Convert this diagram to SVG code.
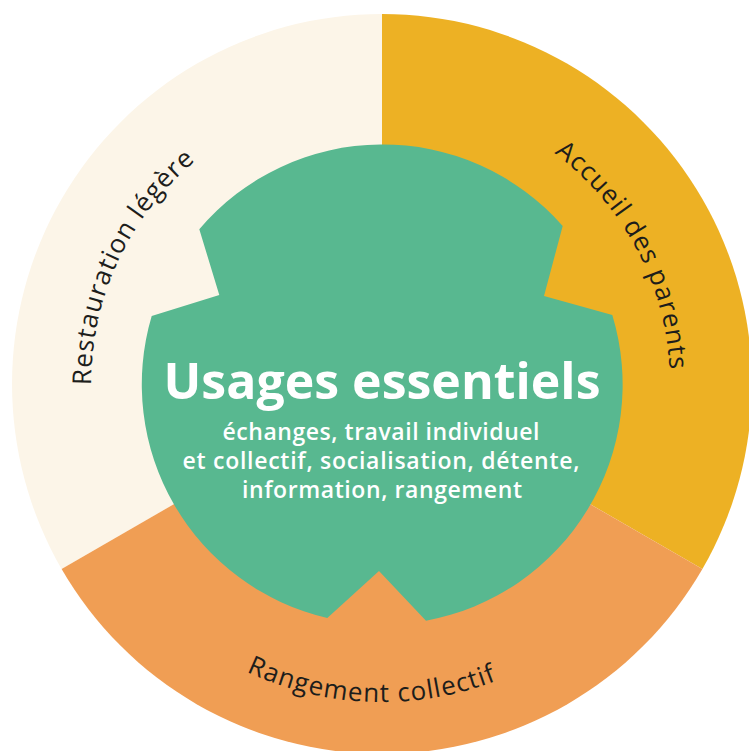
<svg xmlns="http://www.w3.org/2000/svg" width="749" height="751" viewBox="0 0 749 751">
  <style>
    .label { font-family: "Open Sans", "Noto Sans", "Liberation Sans", sans-serif; font-size: 26px; fill: #1d1d1b; letter-spacing: 1px; }
    .title { font-family: "Open Sans", "Noto Sans", "Liberation Sans", sans-serif; font-weight: 700; font-size: 50px; fill: #ffffff; text-anchor: middle; }
    .sub { font-family: "Open Sans", "Noto Sans", "Liberation Sans", sans-serif; font-weight: 600; font-size: 23px; fill: #ffffff; text-anchor: middle; }
  </style>
  <defs>
    <path id="arc-restauration" d="M119.2,506.6 A288,288 0 0 1 306.9,103.9"/>
    <path id="arc-accueil" d="M441.9,102.3 A288,288 0 0 1 649.0,491.9"/>
    <path id="arc-rangement" d="M138.4,588.4 A318,318 0 0 0 610.8,604.9"/>
  </defs>
  <rect width="749" height="751" fill="#ffffff"/>
  <g id="sector-restauration">
    <path d="M382,384 L61.6,569 A370,370 0 0 1 382,14 Z" fill="#FCF5E8"/>
    <text class="label"><textPath href="#arc-restauration" startOffset="50%" text-anchor="middle">Restauration légère</textPath></text>
  </g>
  <g id="sector-accueil">
    <path d="M382,384 L382,14 A370,370 0 0 1 702.4,569 Z" fill="#EDB124"/>
    <text class="label"><textPath href="#arc-accueil" startOffset="50%" text-anchor="middle">Accueil des parents</textPath></text>
  </g>
  <g id="sector-rangement">
    <path d="M382,384 L702.4,569 A370,370 0 0 1 61.6,569 Z" fill="#F09E54"/>
    <text class="label"><textPath href="#arc-rangement" startOffset="50%" text-anchor="middle">Rangement collectif</textPath></text>
  </g>
  <g id="center-usages">
    <path d="M199.3,229.3 A240,240 0 0 1 562.7,226 L544,296 L612.3,315 A240,240 0 0 1 426,620.7 L379,571 L327.3,618 A240,240 0 0 1 151.7,316 L219.3,295 Z" fill="#58B890"/>
    <text class="title" x="382" y="399" textLength="437">Usages essentiels</text>
    <text class="sub" x="381" y="440" textLength="317">échanges, travail individuel</text>
    <text class="sub" x="381" y="469" textLength="397">et collectif, socialisation, détente,</text>
    <text class="sub" x="382" y="498" textLength="280">information, rangement</text>
  </g>
</svg>
